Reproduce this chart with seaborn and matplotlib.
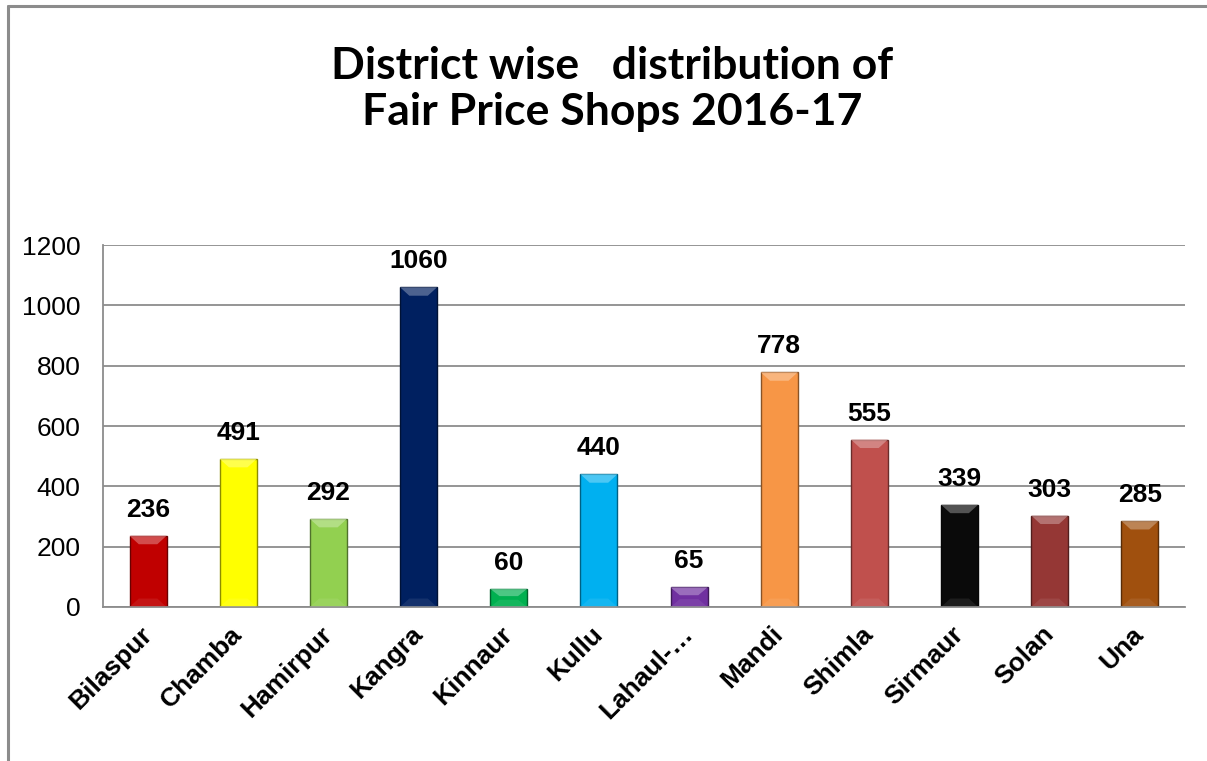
import numpy as np
import pandas as pd
import seaborn as sns
import matplotlib.pyplot as plt
from matplotlib.patches import Polygon
from matplotlib.lines import Line2D
import matplotlib.colors as mcolors

# ----------------------------------------
# data
# ----------------------------------------
DISTRICTS = ['Bilaspur', 'Chamba', 'Hamirpur', 'Kangra', 'Kinnaur', 'Kullu',
             'Lahaul-…', 'Mandi', 'Shimla', 'Sirmaur', 'Solan', 'Una']
SHOPS = [236, 491, 292, 1060, 60, 440, 65, 778, 555, 339, 303, 285]
BAR_COLORS = ['#C00000', '#FFFF00', '#92D050', '#002060', '#00B050', '#00B0F0',
              '#7030A0', '#F79646', '#C0504D', '#0A0A0A', '#953735', '#A0500E']
Y_TICKS = [0, 200, 400, 600, 800, 1000, 1200]

df = pd.DataFrame({'district': DISTRICTS, 'shops': SHOPS})

sns.set_theme(style="white")
plt.rcParams['font.family'] = ['Liberation Sans', 'DejaVu Sans']
plt.rcParams['text.color'] = 'black'

fig = plt.figure(figsize=(12.07, 7.61), dpi=100)
ax = fig.add_axes([0.0853, 0.2024, 0.8965, 0.4756])

sns.barplot(data=df, x='district', y='shops', hue='district',
            palette=BAR_COLORS, width=0.41, legend=False, ax=ax,
            saturation=1)

bars = [c[0] for c in ax.containers]

# bevel-ish look on each bar
for patch, col in zip(bars, BAR_COLORS):
    x0, y0 = patch.get_x(), patch.get_y()
    w, h = patch.get_width(), patch.get_height()
    dark = np.array(mcolors.to_rgb(col)) * 0.55
    light = np.clip(np.array(mcolors.to_rgb(col)) * 0.6 + 0.4, 0, 1)
    patch.set_edgecolor(dark)
    patch.set_linewidth(1.0)
    bev_y = min(28, h * 0.4)
    bev_x = w * 0.25
    ax.add_patch(Polygon([[x0, y0 + h], [x0 + w, y0 + h],
                          [x0 + w - bev_x, y0 + h - bev_y], [x0 + bev_x, y0 + h - bev_y]],
                         closed=True, facecolor=light, edgecolor='none', alpha=0.75, zorder=3))
    ax.add_patch(Polygon([[x0, y0], [x0 + w, y0],
                          [x0 + w - bev_x, y0 + bev_y], [x0 + bev_x, y0 + bev_y]],
                         closed=True, facecolor=light, edgecolor='none', alpha=0.2, zorder=3))

for cont, v in zip(ax.containers, SHOPS):
    ax.bar_label(cont, labels=[str(v)], padding=10,
                 fontsize=19, fontweight='bold', color='black')

ax.set_ylim(0, 1200)
ax.set_yticks(Y_TICKS)
ax.set_xlim(-0.5, len(DISTRICTS) - 0.5)
ax.yaxis.grid(True, color='#8c8c8c', linewidth=1.3)
ax.set_axisbelow(True)
for side in ['top', 'right']:
    ax.spines[side].set_visible(False)
for side in ['left', 'bottom']:
    ax.spines[side].set_color('#8c8c8c')
    ax.spines[side].set_linewidth(1.3)

ax.tick_params(axis='y', length=0, pad=16, labelsize=19, colors='black')
ax.tick_params(axis='x', length=0, pad=17, labelsize=19, colors='black')
for lbl in ax.get_xticklabels():
    lbl.set_rotation(45)
    lbl.set_ha('right')
    lbl.set_va('center')
    lbl.set_rotation_mode('anchor')
    lbl.set_fontweight('bold')
ax.set_xlabel('')
ax.set_ylabel('')

fig.text(0.507, 0.883, 'District wise   distribution of\nFair Price Shops 2016-17',
         ha='center', va='center', fontsize=32, fontweight='bold', color='black',
         family=['Lato', 'DejaVu Sans'], linespacing=1.2)

# outer frame (top and left edges)
fig.add_artist(Line2D([0.0066, 1.0], [0.9921, 0.9921], color='#8c8c8c', linewidth=2.2))
fig.add_artist(Line2D([0.0066, 0.0066], [0.0, 0.9921], color='#8c8c8c', linewidth=2.2))

fig.savefig('out.png', dpi=100)
